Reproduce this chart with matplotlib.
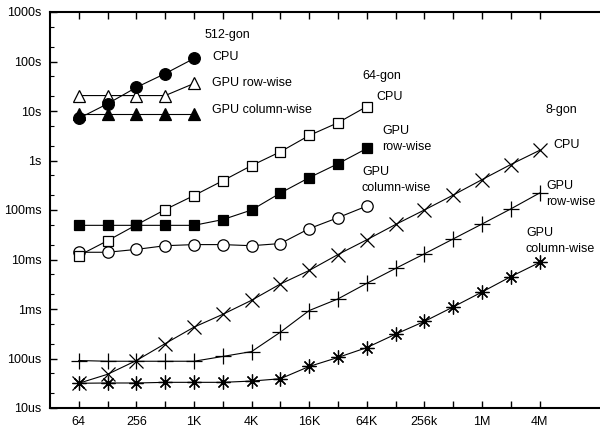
import numpy as np
import matplotlib
matplotlib.use('Agg')
import matplotlib.pyplot as plt
from matplotlib.ticker import FixedLocator, NullFormatter

plt.rcParams['font.family'] = ['Liberation Sans', 'DejaVu Sans']

# problem sizes (powers of two)
sizes = [2 ** k for k in range(6, 23)]
xtick_labels = ['64', '256', '1K', '4K', '16K', '64K', '256k', '1M', '4M']

# 512-gon, seconds
cpu_512 = [7.1, 14, 30, 57, 115]
row_512 = [20.5, 20.5, 20.5, 20.5, 36]
col_512 = [8.9, 8.9, 8.9, 8.9, 8.9]

# 64-gon
cpu_64 = [0.012, 0.024, 0.05, 0.102, 0.196, 0.39, 0.79, 1.5, 3.2, 5.8, 12.3]
row_64 = [0.049, 0.049, 0.049, 0.049, 0.049, 0.064, 0.10, 0.22, 0.45, 0.86, 1.75]
col_64 = [0.014, 0.014, 0.016, 0.019, 0.020, 0.020, 0.019, 0.021, 0.042, 0.070, 0.12]

# 8-gon
cpu_8 = [31.6e-6, 48e-6, 91e-6, 200e-6, 0.43e-3, 0.78e-3, 1.5e-3, 3.2e-3, 6e-3,
         12.6e-3, 25e-3, 51e-3, 0.1, 0.2, 0.41, 0.83, 1.6]
row_8 = [91e-6, 88e-6, 88e-6, 88e-6, 88e-6, 110e-6, 138e-6, 0.34e-3, 0.93e-3,
         1.6e-3, 3.3e-3, 6.6e-3, 13e-3, 26e-3, 52e-3, 0.105, 0.22]
col_8 = [31.6e-6, 32e-6, 32e-6, 33e-6, 33e-6, 33e-6, 35e-6, 39e-6, 69e-6,
         105e-6, 166e-6, 0.31e-3, 0.56e-3, 1.1e-3, 2.2e-3, 4.5e-3, 8.7e-3]

fig = plt.figure(figsize=(6, 4.28), dpi=100)
ax = fig.add_axes([50 / 600, 20 / 428, 550 / 600, 396 / 428])

lw = 0.8


def series(y, marker, face, size, mew=0.9):
    ax.plot(sizes[:len(y)], y, color='black', lw=lw, marker=marker, ms=size,
            mfc=face, mec='black', mew=mew, clip_on=False)


series(col_8, (8, 2, 0), 'black', 10)
series(row_8, '+', 'black', 11)
series(cpu_8, 'x', 'black', 9.5)
series(col_64, 'o', 'white', 8.2)
series(cpu_64, 's', 'white', 7.6)
series(row_64, 's', 'black', 7.6)
series(col_512, '^', 'black', 8.5)
series(row_512, '^', 'white', 8.5)
series(cpu_512, 'o', 'black', 8.4)

ax.set_xscale('log', base=2)
ax.set_yscale('log')
ax.set_xlim(2 ** 5, 2 ** 24.1)
ax.set_ylim(1e-5, 1e3)

ax.xaxis.set_major_locator(FixedLocator(sizes))
ax.xaxis.set_minor_locator(FixedLocator([]))
ax.set_xticklabels([xtick_labels[i // 2] if i % 2 == 0 else '' for i in range(len(sizes))])

yt = [1e-5, 1e-4, 1e-3, 1e-2, 1e-1, 1, 10, 100, 1000]
ax.yaxis.set_major_locator(FixedLocator(yt))
ax.set_yticklabels(['10us', '100us', '1ms', '10ms', '100ms', '1s', '10s', '100s', '1000s'])
minors = [d * m for d in yt[:-1] for m in (2, 5)]
ax.yaxis.set_minor_locator(FixedLocator(minors))
ax.yaxis.set_minor_formatter(NullFormatter())

ax.tick_params(which='both', direction='in', top=True, right=False, labelsize=9, pad=6)
ax.tick_params(which='major', length=5, width=1)
ax.tick_params(which='minor', length=3, width=0.8)
for s in ('left', 'bottom', 'top'):
    ax.spines[s].set_linewidth(1.5)
ax.spines['right'].set_visible(False)


def lab(px, py, text):
    fx = (px - 50) / 550
    fy = (408 - py) / 396
    ax.text(fx, fy, text, transform=ax.transAxes, fontsize=9, ha='left',
            va='center', linespacing=1.35)


lab(205, 35, '512-gon')
lab(212, 57, 'CPU')
lab(212, 83, 'GPU row-wise')
lab(212, 110, 'GPU column-wise')
lab(362, 76, '64-gon')
lab(376, 97, 'CPU')
lab(382, 139, 'GPU\nrow-wise')
lab(362, 180, 'GPU\ncolumn-wise')
lab(546, 110, '8-gon')
lab(553, 145, 'CPU')
lab(546, 194, 'GPU\nrow-wise')
lab(526, 241, 'GPU\ncolumn-wise')

fig.savefig('out.png', dpi=100)
